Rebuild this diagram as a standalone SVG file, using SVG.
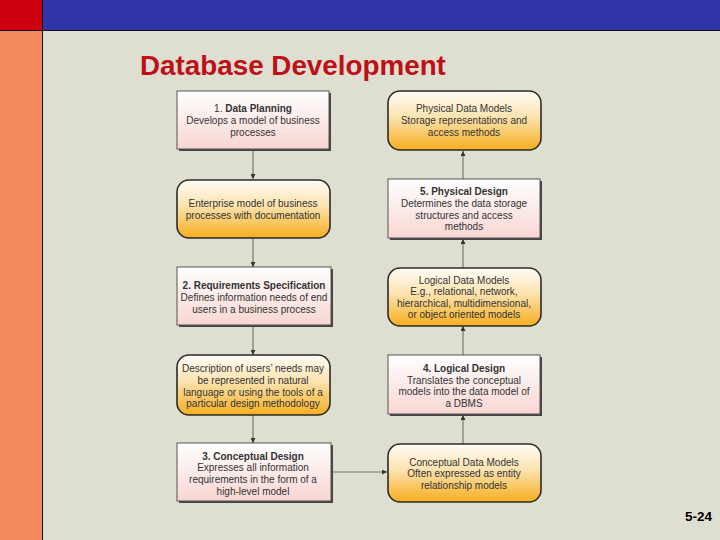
<svg xmlns="http://www.w3.org/2000/svg" width="720" height="540" viewBox="0 0 720 540">
<defs>
<linearGradient id="gOr" x1="0" y1="0" x2="0" y2="1">
<stop offset="0" stop-color="#FFFDF8"/>
<stop offset="0.45" stop-color="#FCE2AE"/>
<stop offset="1" stop-color="#F6AE1E"/>
</linearGradient>
<linearGradient id="gPk" x1="0" y1="0" x2="0" y2="1">
<stop offset="0" stop-color="#FFFFFF"/>
<stop offset="1" stop-color="#F8D6D2"/>
</linearGradient>
<marker id="ah" viewBox="0 0 10 10" refX="10" refY="5" markerWidth="5" markerHeight="5" orient="auto" markerUnits="userSpaceOnUse">
<path d="M0,0 L10,5 L0,10 Z" fill="#333"/>
</marker>
<marker id="ah2" viewBox="0 0 10 10" refX="10" refY="5" markerWidth="6" markerHeight="6" orient="auto" markerUnits="userSpaceOnUse">
<path d="M0,1 L10,5 L0,9 Z" fill="#333"/>
</marker>
</defs>
<style>
.sq{fill:url(#gPk);stroke:#555;stroke-width:1}
.sh{fill:#444}
.rd{fill:url(#gOr);stroke:#2A2A2A;stroke-width:1.6}
.t{font-family:"Liberation Sans",Arial,sans-serif;font-size:10px;fill:#333;text-anchor:middle}
.b{font-weight:bold}
.c{stroke:#777;stroke-width:1.2;fill:none;marker-end:url(#ah)}
</style>
<rect x="0" y="0" width="720" height="540" fill="#DFDFD1"/>
<rect x="0" y="0" width="42" height="30" fill="#CC0010"/>
<rect x="42" y="0" width="678" height="30" fill="#3034A8"/>
<rect x="0" y="30" width="42" height="510" fill="#F4895C"/>
<line x1="0" y1="30.5" x2="720" y2="30.5" stroke="#111" stroke-width="1"/>
<line x1="42.5" y1="0" x2="42.5" y2="540" stroke="#111" stroke-width="1"/>
<text x="140" y="75" font-family="Liberation Sans,Arial,sans-serif" font-size="27.8" font-weight="bold" fill="#BE1018">Database Development</text>
<text x="712" y="521" font-family="Liberation Sans,Arial,sans-serif" font-size="13.5" font-weight="bold" fill="#000" text-anchor="end">5-24</text>

<g id="connectors">
<line class="c" x1="253" y1="150" x2="253" y2="179"/>
<line class="c" x1="253" y1="238" x2="253" y2="267"/>
<line class="c" x1="253" y1="326" x2="253" y2="355"/>
<line class="c" x1="253" y1="415" x2="253" y2="443"/>
<line class="c" x1="333" y1="472" x2="387" y2="472"/>
<line class="c" x1="463" y1="444" x2="463" y2="415"/>
<line class="c" x1="463" y1="355" x2="463" y2="326"/>
<line class="c" x1="463" y1="268" x2="463" y2="239"/>
<line class="c" x1="463" y1="179" x2="463" y2="151"/>
</g>

<g id="n1">
<rect class="sh" x="179" y="93" width="152" height="58"/>
<rect class="sq" x="177" y="91" width="152" height="58"/>
<text class="t" x="253" y="112"><tspan>1. </tspan><tspan class="b">Data Planning</tspan></text>
<text class="t" x="253" y="124">Develops a model of business</text>
<text class="t" x="253" y="136">processes</text>
</g>
<g id="n2">
<rect class="rd" x="177" y="180" width="153" height="58" rx="12"/>
<text class="t" x="253" y="207">Enterprise model of business</text>
<text class="t" x="253" y="219">processes with documentation</text>
</g>
<g id="n3">
<rect class="sh" x="179" y="269" width="154" height="58"/>
<rect class="sq" x="177" y="267" width="154" height="58"/>
<text class="t b" x="254" y="289">2. Requirements Specification</text>
<text class="t" x="254" y="301">Defines information needs of end</text>
<text class="t" x="254" y="313">users in a business process</text>
</g>
<g id="n4">
<rect class="rd" x="177" y="355" width="153" height="60" rx="12"/>
<text class="t" x="253" y="372">Description of users’ needs may</text>
<text class="t" x="253" y="384">be represented in natural</text>
<text class="t" x="253" y="396">language or using the tools of a</text>
<text class="t" x="253" y="407">particular design methodology</text>
</g>
<g id="n5">
<rect class="sh" x="179" y="445" width="154" height="58"/>
<rect class="sq" x="177" y="443" width="154" height="58"/>
<text class="t b" x="253" y="460">3. Conceptual Design</text>
<text class="t" x="253" y="471">Expresses all information</text>
<text class="t" x="253" y="483">requirements in the form of a</text>
<text class="t" x="253" y="495">high-level model</text>
</g>

<g id="r1">
<rect class="rd" x="388" y="91" width="153" height="59" rx="12"/>
<text class="t" x="464" y="112">Physical Data Models</text>
<text class="t" x="464" y="124">Storage representations and</text>
<text class="t" x="464" y="136">access methods</text>
</g>
<g id="r2">
<rect class="sh" x="390" y="181" width="152" height="59"/>
<rect class="sq" x="388" y="179" width="152" height="59"/>
<text class="t b" x="464" y="195">5. Physical Design</text>
<text class="t" x="464" y="207">Determines the data storage</text>
<text class="t" x="464" y="219">structures and access</text>
<text class="t" x="464" y="230">methods</text>
</g>
<g id="r3">
<rect class="rd" x="388" y="268" width="153" height="58" rx="12"/>
<text class="t" x="464" y="284">Logical Data Models</text>
<text class="t" x="464" y="295">E.g., relational, network,</text>
<text class="t" x="464" y="307">hierarchical, multidimensional,</text>
<text class="t" x="464" y="318">or object oriented models</text>
</g>
<g id="r4">
<rect class="sh" x="390" y="357" width="152" height="59"/>
<rect class="sq" x="388" y="355" width="152" height="59"/>
<text class="t b" x="464" y="372">4. Logical Design</text>
<text class="t" x="464" y="384">Translates the conceptual</text>
<text class="t" x="464" y="395">models into the data model of</text>
<text class="t" x="464" y="407">a DBMS</text>
</g>
<g id="r5">
<rect class="rd" x="388" y="444" width="153" height="58" rx="12"/>
<text class="t" x="464" y="466">Conceptual Data Models</text>
<text class="t" x="464" y="477">Often expressed as entity</text>
<text class="t" x="464" y="489">relationship models</text>
</g>
</svg>
